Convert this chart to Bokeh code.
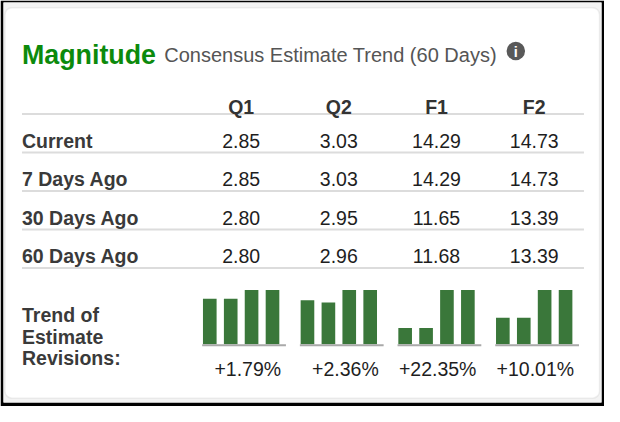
from bokeh.plotting import figure
from bokeh.models import BoxAnnotation, Range1d
from bokeh.core.properties import value
from bokeh.embed import file_html
from bokeh.resources import INLINE

# --- data ---
title = "Magnitude"
subtitle = "Consensus Estimate Trend (60 Days)"
periods = ["Q1", "Q2", "F1", "F2"]
row_labels = ["Current", "7 Days Ago", "30 Days Ago", "60 Days Ago"]
current = [2.85, 3.03, 14.29, 14.73]
days_7 = [2.85, 3.03, 14.29, 14.73]
days_30 = [2.80, 2.95, 11.65, 13.39]
days_60 = [2.80, 2.96, 11.68, 13.39]
# sparkline bar heights (% of tallest bar), oldest -> newest
trend_q1 = [84, 84, 100, 100]
trend_q2 = [81, 77, 100, 100]
trend_f1 = [30, 30, 100, 100]
trend_f2 = [49, 49, 100, 100]
revisions = ["+1.79%", "+2.36%", "+22.35%", "+10.01%"]
trend_label = ["Trend of", "Estimate", "Revisions:"]

rows = [current, days_7, days_30, days_60]
trends = [trend_q1, trend_q2, trend_f1, trend_f2]

# --- layout (reference pixel units, y grows downward) ---
FONT = "Liberation Sans"
S = 0.974
GREEN = "#0c8a0c"
BAR = "#3a773a"
LABEL = "#3a3a3a"
TXT = "#1e1e1e"


def fs(n):
    return f"{n * S:.1f}px"


p = figure(width=604, height=406, output_backend="svg", toolbar_location=None,
           tools="", x_axis_type=None, y_axis_type=None,
           x_range=Range1d(3, 617), y_range=Range1d(418, 2),
           min_border_left=3, min_border_right=3, min_border_top=2, min_border_bottom=4,
           border_fill_color="black", background_fill_color="#f3f3f3",
           outline_line_color=None)
p.grid.visible = False

panel = BoxAnnotation(left=4.5, right=615, top=7.5, bottom=413.5, fill_color="white",
                      fill_alpha=1, line_color="#c9c9c9", line_width=1.5,
                      border_radius=7, level="underlay")
p.add_layout(panel)

# title
p.text(x=[22], y=[57], text=[title], text_font=value(FONT), text_font_style="bold",
       text_font_size=fs(27.5), text_color=GREEN, text_baseline="alphabetic")
p.text(x=[168], y=[57], text=[subtitle], text_font=value(FONT),
       text_font_size=fs(20.5), text_color="#555555", text_baseline="alphabetic")
p.scatter(x=[529], y=[52.5], size=18.5, marker="circle", fill_color="#595959", line_color=None)
p.text(x=[529], y=[53], text=["i"], text_font=value(FONT), text_font_style="bold",
       text_font_size=fs(15), text_color="white", text_align="center", text_baseline="middle")

col_x = [247 + 100.3 * i for i in range(len(periods))]
row_y = [146 + 39.8 * i for i in range(len(row_labels))]
line_y = [118 + 40 * i for i in range(len(row_labels) + 1)]

# separators
p.segment(x0=[22] * len(line_y), x1=[599] * len(line_y), y0=line_y, y1=line_y,
          line_color="#dcdcdc", line_width=2)

# header
p.text(x=col_x, y=[110.5] * len(periods), text=periods, text_font=value(FONT),
       text_font_style="bold", text_font_size=fs(20), text_color="#333333",
       text_align="center", text_baseline="alphabetic")

# table body
p.text(x=[22] * len(row_labels), y=row_y, text=row_labels, text_font=value(FONT),
       text_font_style="bold", text_font_size=fs(20), text_color=LABEL,
       text_baseline="alphabetic")
for vals, y in zip(rows, row_y):
    p.text(x=col_x, y=[y] * len(vals), text=[f"{v:.2f}" for v in vals],
           text_font=value(FONT), text_font_size=fs(20), text_color=TXT,
           text_align="center", text_baseline="alphabetic")

# trend of estimate revisions
p.text(x=[22] * len(trend_label), y=[327, 349.5, 372], text=trend_label,
       text_font=value(FONT), text_font_style="bold", text_font_size=fs(20),
       text_color=LABEL, text_baseline="alphabetic")

base = 357.5
bar_px = 56.5
offsets = [-32.2, -10.7, 10.7, 32.2]
for cx, heights in zip(col_x, trends):
    p.vbar(x=[cx + o for o in offsets], width=14, bottom=base,
           top=[base - h / 100 * bar_px for h in heights],
           fill_color=BAR, line_color=None)
    p.segment(x0=[cx - 40], x1=[cx + 46], y0=[base + 1], y1=[base + 1],
              line_color="#a9a9a9", line_width=2)

p.text(x=[cx + 41 for cx in col_x], y=[383] * len(revisions), text=revisions,
       text_font=value(FONT), text_font_size=fs(20), text_color=TXT,
       text_align="right", text_baseline="alphabetic")

open("out.html", "w").write(file_html(p, INLINE))
